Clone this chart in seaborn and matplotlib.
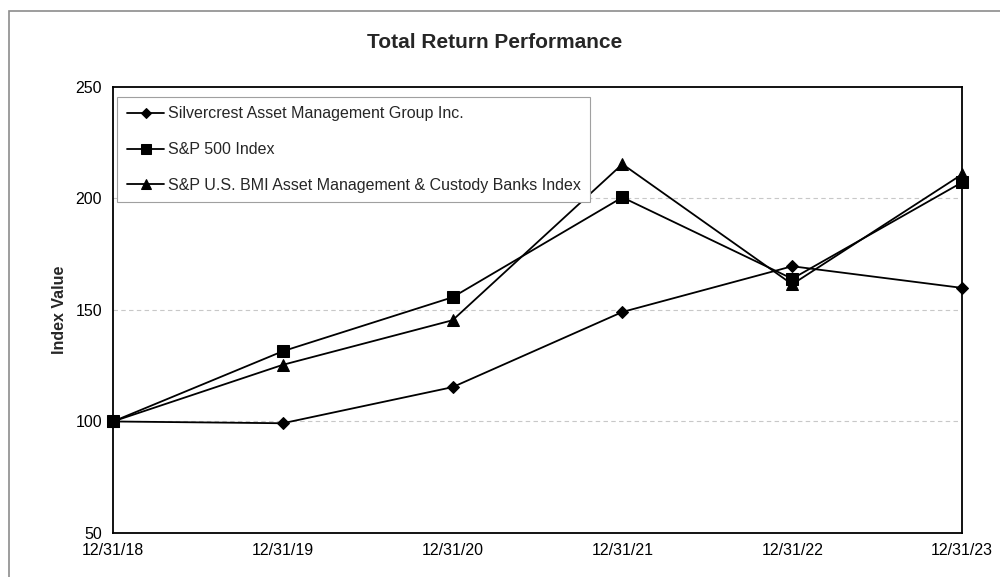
import matplotlib
matplotlib.use("Agg")
import matplotlib.pyplot as plt
import seaborn as sns
import pandas as pd
from matplotlib.patches import Rectangle

dates = ["12/31/18", "12/31/19", "12/31/20", "12/31/21", "12/31/22", "12/31/23"]
silvercrest = [100.0, 99.2, 115.4, 149.1, 169.6, 159.9]
sp500 = [100.0, 131.5, 155.7, 200.5, 164.0, 207.2]
sp_bmi = [100.0, 125.4, 145.4, 215.4, 161.5, 210.8]

names = [
    "Silvercrest Asset Management Group Inc.",
    "S&P 500 Index",
    "S&P U.S. BMI Asset Management & Custody Banks Index",
]
series = [silvercrest, sp500, sp_bmi]

df = pd.DataFrame(
    [(i, v, n) for n, vals in zip(names, series) for i, v in enumerate(vals)],
    columns=["pos", "value", "series"],
)

sns.set_style("white")
plt.rcParams["font.family"] = ["Liberation Sans", "DejaVu Sans"]

fig = plt.figure(figsize=(10, 5.77), dpi=100)
ax = fig.add_axes([0.113, 0.0763, 0.849, 0.773])

# gray frame around the whole picture
fig.patches.append(Rectangle((0.009, -0.1), 1.2, 0.1 + 1 - 11 / 577,
                             transform=fig.transFigure, fill=False,
                             edgecolor="#8c8c8c", linewidth=1.2))

sns.lineplot(
    data=df, x="pos", y="value", hue="series", style="series",
    palette=["black"] * 3, markers={names[0]: "D", names[1]: "s", names[2]: "^"},
    markersize=8, dashes=False, linewidth=1.3, markeredgecolor="black",
    ax=ax,
)
ax.lines[0].set_markersize(6.5)
for line in ax.lines[:3]:
    line.set_clip_on(False)
    line.set_zorder(5)

ax.set_xlim(0, 5)
ax.set_ylim(50, 250)
ax.set_xticks(range(len(dates)))
ax.set_xticklabels(dates)
ax.set_yticks([50, 100, 150, 200, 250])
for y in [100, 150, 200]:
    ax.axhline(y, color="#c8c8c8", linestyle=(0, (4, 3)), linewidth=0.8, zorder=0)

for s in ax.spines.values():
    s.set_color("black")
    s.set_linewidth(1.3)
ax.tick_params(axis="both", which="both", direction="out", length=5, width=0.8,
               color="#808080", labelsize=11.5, labelcolor="black", pad=3)
ax.tick_params(axis="x", pad=2)

ax.set_xlabel("")
ax.set_ylabel("Index Value", fontsize=11.5, fontweight="bold")
ax.yaxis.set_label_coords(-0.054, 0.5)
fig.text(0.495, 0.926, "Total Return Performance", ha="center", va="center",
         fontsize=15, fontweight="bold")

handles, labels = ax.get_legend_handles_labels()
leg = ax.legend(handles, labels, loc="upper left", bbox_to_anchor=(0.005, 0.978),
                frameon=True, fancybox=False, edgecolor="#a0a0a0", framealpha=1,
                fontsize=11.5, labelspacing=1.3, handlelength=2.35,
                handletextpad=0.2, borderpad=0.6, borderaxespad=0)
leg.get_frame().set_linewidth(0.8)
for h, ms in zip(leg.get_lines(), [5.5, 7, 7]):
    h.set_markersize(ms)

fig.savefig("out.png", dpi=100)
